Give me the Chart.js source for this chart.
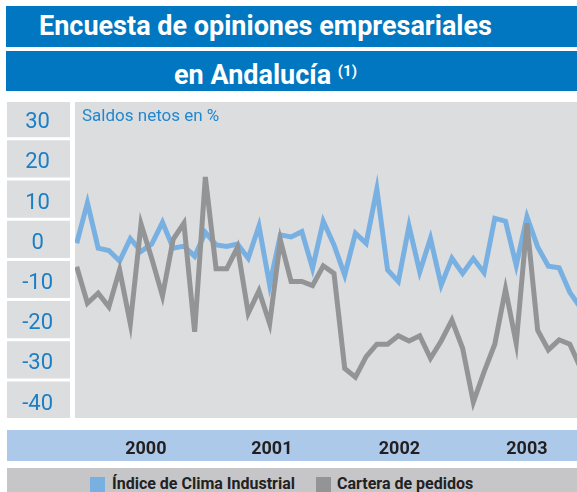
<!DOCTYPE html>
<html>
<head>
<meta charset="utf-8">
<script src="https://cdn.jsdelivr.net/npm/chart.js@4.4.0/dist/chart.umd.min.js"></script>
<style>
  body { margin: 0; width: 577px; height: 492px; overflow: hidden; background: #fff; position: relative; font-family: Roboto, 'Liberation Sans', sans-serif; }
  .banner { position: absolute; left: 6px; width: 519px; padding-right: 52px; background: #0077c0; color: #fff; font-weight: bold; font-size: 27px; text-align: center; }
  #t1 { top: 6px; height: 41px; line-height: 41px; }
  #t2 { top: 51px; height: 40px; line-height: 40px; }
  #t2 sup { font-size: 15px; vertical-align: 8px; }
  #wrap { position: absolute; left: 0; top: 95px; width: 577px; height: 370px; }
  #unit { position: absolute; left: 82px; top: 105px; font-size: 17px; color: #2088cf; }
  #legend { position: absolute; left: 7px; top: 468px; width: 570px; height: 24px; background: #c6c6c8; }
  .box { position: absolute; top: 9px; width: 15px; height: 15px; }
  .item { position: absolute; top: 6px; font-size: 16px; font-weight: bold; color: #222; line-height: 20px; }
</style>
</head>
<body>
<div class="banner" id="t1">Encuesta de opiniones empresariales</div>
<div class="banner" id="t2">en Andalucía <sup>(1)</sup></div>
<div id="wrap"><canvas id="chart" width="577" height="370"></canvas></div>
<div id="unit">Saldos netos en %</div>
<div id="legend">
  <div class="box" style="left:83px;background:#79b0e2"></div>
  <div class="item" style="left:105px">Índice de Clima Industrial</div>
  <div class="box" style="left:309px;background:#939496"></div>
  <div class="item" style="left:330px">Cartera de pedidos</div>
</div>
<script>
// Monthly values, Dec 1999 - Nov 2003 (saldos netos en %)
const climaIndustrial = [-1.0, 9.1, -2.2, -2.8, -5.4, 0.2, -3.0, -1.2, 4.2, -2.2, -1.7, -4.2,
  1.7, -1.4, -1.8, -1.2, -4.7, 3.3, -11.4, 1.1, 0.6, 1.9, -7.2, 4.5,
  -1.4, -8.9, 1.5, -1.0, 12.5, -7.6, -10.5, 3.3, -8.1, 0.2, -11.4, -4.7,
  -8.5, -4.8, -8.3, 5.2, 4.5, -6.5, 5.6, -1.9, -6.7, -7.1, -13.2, -17];
const carteraPedidos = [-6.8, -15.9, -13.4, -16.8, -7.6, -21, 3.8, -4.8, -14.1, 0, 4, -23,
  15.5, -7.3, -7.3, -2, -18.4, -12.8, -21, -0.2, -10.5, -10.5, -11.5, -6.6,
  -8.5, -32.1, -34.3, -29.2, -26.1, -26.1, -24, -25.3, -24, -29.6, -25.3, -20.1,
  -27.1, -40.5, -33, -26.1, -12.4, -25.9, 4, -22.6, -27.5, -25, -26.1, -32];

// Year labels and where they sit on the month axis
const years = ['2000', '2001', '2002', '2003'];
const yearTickPos = [6.45, 18.2, 30.1, 42.0];
const yTicks = [-40, -35, -30, -25, -20, -15, -10, -5, 0, 5, 10, 15, 20, 25, 30];

const FONT = "Roboto, 'Liberation Sans', sans-serif";

// Grey panels behind the plot and the tick label column, light blue band under the axis
const backgroundPlugin = {
  id: 'backgrounds',
  beforeDraw(chart) {
    const ctx = chart.ctx;
    const area = chart.chartArea;
    const y = chart.scales.y;
    ctx.save();
    ctx.fillStyle = '#dcdddf';
    ctx.fillRect(area.left, area.top, area.right - area.left, area.bottom - area.top);
    ctx.fillRect(7, area.top, 63, area.bottom - area.top);
    ctx.strokeStyle = '#ffffff';
    ctx.lineWidth = 3;
    yTicks.filter(v => Math.abs(v) % 10 === 5).forEach(v => {
      const py = y.getPixelForValue(v);
      ctx.beginPath();
      ctx.moveTo(7, py);
      ctx.lineTo(70, py);
      ctx.stroke();
    });
    ctx.fillStyle = '#adc9e9';
    ctx.fillRect(7, area.bottom + 12, chart.width - 7, 31);
    ctx.restore();
  }
};

const toPoints = arr => arr.map((v, i) => ({ x: i, y: v }));

new Chart(document.getElementById('chart'), {
  type: 'line',
  data: {
    datasets: [
      {
        label: 'Índice de Clima Industrial',
        data: toPoints(climaIndustrial),
        borderColor: '#79b0e2',
        borderWidth: 5,
        borderJoinStyle: 'miter',
        pointRadius: 0,
        tension: 0,
        clip: 0,
        order: 2
      },
      {
        label: 'Cartera de pedidos',
        data: toPoints(carteraPedidos),
        borderColor: '#939496',
        borderWidth: 5,
        borderJoinStyle: 'miter',
        pointRadius: 0,
        tension: 0,
        clip: 0,
        order: 1
      }
    ]
  },
  options: {
    responsive: false,
    animation: false,
    layout: { padding: { top: 7, left: 0, right: 0, bottom: 0 } },
    plugins: {
      legend: { display: false },
      tooltip: { enabled: false }
    },
    scales: {
      x: {
        type: 'linear',
        min: -0.16,
        max: 46.67,
        grid: { display: false },
        border: { display: false },
        afterBuildTicks: scale => { scale.ticks = yearTickPos.map(v => ({ value: v })); },
        afterFit: scale => { scale.height = 47; scale.paddingLeft = 0; scale.paddingRight = 0; },
        ticks: {
          autoSkip: false,
          maxRotation: 0,
          padding: 13,
          color: '#231f20',
          font: { family: FONT, size: 18, weight: 'bold' },
          callback: (value, index) => years[index]
        }
      },
      y: {
        min: -44.45,
        max: 34.15,
        afterBuildTicks: scale => { scale.ticks = yTicks.map(v => ({ value: v })); },
        afterFit: scale => { scale.width = 75; scale.paddingTop = 0; scale.paddingBottom = 0; },
        grid: {
          drawTicks: false,
          lineWidth: 3,
          color: ctx => Math.abs(ctx.tick.value) % 10 === 5 ? '#ffffff' : 'rgba(0,0,0,0)'
        },
        border: { display: false },
        ticks: {
          crossAlign: 'center',
          padding: 22,
          labelOffset: 4,
          color: '#1b7fc6',
          font: { family: FONT, size: 22 },
          callback: value => value % 10 === 0 ? String(value) : ''
        }
      }
    }
  },
  plugins: [backgroundPlugin]
});
</script>
</body>
</html>
